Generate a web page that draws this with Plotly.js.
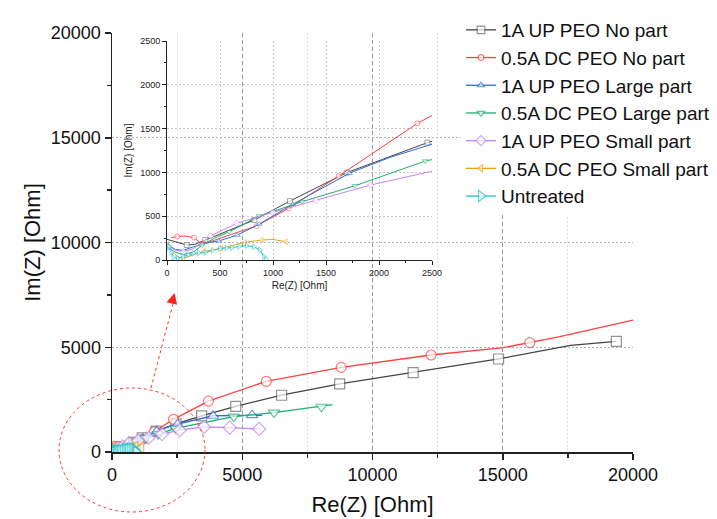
<!DOCTYPE html>
<html>
<head>
<meta charset="utf-8">
<script src="https://cdn.plot.ly/plotly-3.0.1.min.js"></script>
<style>html,body{margin:0;padding:0;background:#fff;}#chart{width:717px;height:519px;}</style>
</head>
<body>
<div id="chart"></div>
<script>
// ---- Data (Nyquist: Re(Z), Im(Z) in Ohm) ----
var seriesNames = ['1A UP PEO No part','0.5A DC PEO No part','1A UP PEO Large part','0.5A DC PEO Large part','1A UP PEO Small part','0.5A DC PEO Small part','Untreated'];

var blackX = [0, 75, 186, 264, 362, 824, 1160, 1695, 2456, 3440, 4750, 6510, 8740, 11560, 14840, 17600, 19360];
var blackY = [236, 209, 171, 179, 228, 457, 673, 997, 1339, 1720, 2180, 2710, 3250, 3790, 4440, 5090, 5280];
var blackM = [0, 0, 1, 0, 1, 1, 1, 1, 1, 1, 1, 1, 1, 1, 1, 0, 1];

var redX = [40, 97, 170, 255, 310, 400, 600, 846, 1148, 1620, 2362, 3700, 5920, 8800, 12250, 15020, 16040, 17150, 20000];
var redY = [255, 268, 275, 255, 200, 205, 290, 388, 590, 959, 1560, 2430, 3370, 4040, 4630, 4980, 5220, 5500, 6300];
var redM = [0, 1, 0, 1, 0, 0, 0, 1, 1, 1, 1, 1, 1, 1, 1, 0, 1, 0, 0];

var blueX = [10, 80, 150, 250, 400, 488, 663, 871, 1186, 1720, 2100, 2520, 3880, 5380, 5760];
var blueY = [170, 120, 110, 150, 200, 217, 285, 411, 636, 990, 1170, 1330, 1730, 1760, 1750];
var blueM = [1, 0, 0, 0, 0, 1, 1, 1, 1, 1, 0, 1, 1, 1, 0];

var greenX = [10, 60, 150, 250, 330, 450, 588, 868, 1276, 1774, 2437, 4670, 6220, 8040, 8460];
var greenY = [150, 100, 60, 90, 168, 250, 323, 502, 666, 848, 1130, 1690, 1880, 2160, 2260];
var greenM = [1, 0, 0, 0, 1, 0, 1, 1, 1, 1, 1, 1, 1, 1, 0];

var purpleX = [0, 60, 154, 250, 412, 657, 997, 1406, 1921, 2600, 3530, 4520, 5650];
var purpleY = [185, 120, 95, 130, 274, 419, 544, 681, 856, 1040, 1200, 1160, 1100];
var purpleM = [0, 0, 1, 0, 1, 1, 1, 1, 1, 1, 1, 1, 1];

var orangeX = [0, 40, 100, 154, 250, 350, 512, 736, 893, 1000, 1120];
var orangeY = [170, 100, 40, 19, 60, 100, 133, 202, 228, 235, 209];
var orangeM = [1, 0, 0, 1, 0, 1, 1, 1, 1, 0, 1];

var cyanX = [0, 20, 40, 60, 100, 150, 200, 248, 300, 362, 430, 500, 560, 613, 680, 752, 820, 877, 915, 934];
var cyanY = [130, 152, 90, 30, 20, 40, 60, 76, 80, 84, 110, 130, 138, 141, 155, 165, 150, 114, 40, 8];
var cyanM = [1, 1, 1, 1, 1, 1, 1, 1, 1, 1, 1, 1, 1, 1, 1, 1, 1, 1, 1, 1];

var mainTicks = [0, 5000, 10000, 15000, 20000];
var mainTickText = ['0', '5000', '10000', '15000', '20000'];
var insetTicks = [0, 500, 1000, 1500, 2000, 2500];
var insetTickText = ['0', '500', '1000', '1500', '2000', '2500'];

// ---- Styles ----
var series = [
  {x: blackX,  y: blackY,  m: blackM,  color: '#444444', mcolor: '#666666', symbol: 'square'},
  {x: redX,    y: redY,    m: redM,    color: '#ff4040', mcolor: '#ff4040', symbol: 'circle'},
  {x: blueX,   y: blueY,   m: blueM,   color: '#2a6fd8', mcolor: '#2a6fd8', symbol: 'triangle-up'},
  {x: greenX,  y: greenY,  m: greenM,  color: '#1fae6a', mcolor: '#1fae6a', symbol: 'triangle-down'},
  {x: purpleX, y: purpleY, m: purpleM, color: '#c184ee', mcolor: '#c184ee', symbol: 'diamond'},
  {x: orangeX, y: orangeY, m: orangeM, color: '#eea21c', mcolor: '#eea21c', symbol: 'triangle-left'},
  {x: cyanX,   y: cyanY,   m: cyanM,   color: '#22c3c8', mcolor: '#22c3c8', symbol: 'triangle-right'}
];

var FONT = 'Liberation Sans, Arial, Helvetica, sans-serif';
var traces = [];
series.forEach(function (s, i) {
  traces.push({
    type: 'scatter', mode: 'lines+markers', name: seriesNames[i],
    x: s.x, y: s.y, xaxis: 'x', yaxis: 'y',
    line: {color: s.color, width: 1.3},
    marker: {symbol: s.symbol, color: 'white', size: s.m.map(function (v) { return v ? 10 : 0; }),
             line: {color: s.mcolor, width: 1.2}},
    hoverinfo: 'skip'
  });
});
series.forEach(function (s, i) {
  traces.push({
    type: 'scatter', mode: 'lines+markers', name: seriesNames[i], showlegend: false,
    x: s.x, y: s.y, xaxis: 'x2', yaxis: 'y2',
    line: {color: s.color, width: 1},
    marker: {symbol: s.symbol, color: 'white', size: s.m.map(function (v) { return v ? 5 : 0; }),
             line: {color: s.mcolor, width: 0.8}},
    hoverinfo: 'skip'
  });
});

var W = 717, H = 519, L = 112, R = 84, T = 33, B = 67;
var pw = W - L - R, ph = H - T - B;
function px(x) { return (x - L) / pw; }
function py(y) { return (H - B - y) / ph; }

var layout = {
  width: W, height: H,
  margin: {l: L, r: R, t: T, b: B, pad: 0, autoexpand: false},
  paper_bgcolor: 'white', plot_bgcolor: 'rgba(0,0,0,0)',
  font: {family: FONT, color: '#111'},
  showlegend: true,
  legend: {x: px(461), y: py(11), xanchor: 'left', yanchor: 'top', bgcolor: 'white',
           borderwidth: 0, font: {family: FONT, size: 19, color: '#111'}, tracegroupgap: 0},
  xaxis: {
    domain: [0, 1], anchor: 'y', range: [0, 20000], tickvals: mainTicks, ticktext: mainTickText,
    showline: true, linecolor: '#222', linewidth: 1.5,
    ticks: 'outside', ticklen: 6, tickwidth: 1.5, tickcolor: '#222',
    showgrid: true, gridcolor: '#9a9a9a', griddash: '4px,3px', gridwidth: 1,
    zeroline: false,
    minor: {dtick: 2500, tick0: 0, ticks: 'outside', ticklen: 4, tickwidth: 1.5, tickcolor: '#222',
            showgrid: true, gridcolor: '#e0e0e0', griddash: '2px,2px', gridwidth: 1},
    tickfont: {family: FONT, size: 18, color: '#111'},
    title: {text: 'Re(Z) [Ohm]', font: {family: FONT, size: 22, color: '#111'}, standoff: 12},
    automargin: false
  },
  yaxis: {
    domain: [0, 1], anchor: 'x', range: [0, 20000], tickvals: mainTicks, ticktext: mainTickText,
    showline: true, linecolor: '#222', linewidth: 1.5,
    ticks: 'outside', ticklen: 6, tickwidth: 1.5, tickcolor: '#222',
    showgrid: true, gridcolor: '#b4b4b4', griddash: '2px,2px', gridwidth: 1,
    zeroline: false,
    minor: {dtick: 2500, tick0: 0, ticks: 'outside', ticklen: 4, tickwidth: 1.5, tickcolor: '#222', showgrid: false},
    tickfont: {family: FONT, size: 18, color: '#111'},
    title: {text: 'Im(Z) [Ohm]', font: {family: FONT, size: 22, color: '#111'}, standoff: 4},
    automargin: false
  },
  xaxis2: {
    domain: [px(167), px(432)], anchor: 'y2', range: [0, 2500], tickvals: insetTicks, ticktext: insetTickText,
    showline: true, linecolor: '#222', linewidth: 1,
    ticks: 'outside', ticklen: 4, tickwidth: 1, tickcolor: '#222',
    showgrid: true, gridcolor: '#c8c8c8', griddash: '2px,2px', gridwidth: 1, zeroline: false,
    minor: {dtick: 250, tick0: 0, ticks: 'outside', ticklen: 2, tickwidth: 1, tickcolor: '#222', showgrid: false},
    tickfont: {family: FONT, size: 9, color: '#222'},
    title: {text: 'Re(Z) [Ohm]', font: {family: FONT, size: 10, color: '#222'}, standoff: 5},
    automargin: false
  },
  yaxis2: {
    domain: [py(260), py(41)], anchor: 'x2', range: [0, 2500], tickvals: insetTicks, ticktext: insetTickText,
    showline: true, linecolor: '#222', linewidth: 1,
    ticks: 'outside', ticklen: 4, tickwidth: 1, tickcolor: '#222',
    showgrid: true, gridcolor: '#c8c8c8', griddash: '2px,2px', gridwidth: 1, zeroline: false,
    minor: {dtick: 250, tick0: 0, ticks: 'outside', ticklen: 2, tickwidth: 1, tickcolor: '#222', showgrid: false},
    tickfont: {family: FONT, size: 9, color: '#222'},
    title: {text: 'Im(Z) [Ohm]', font: {family: FONT, size: 10, color: '#222'}, standoff: 5},
    automargin: false
  },
  shapes: [
    {type: 'circle', xref: 'paper', yref: 'paper', layer: 'above',
     x0: px(59), x1: px(205), y0: py(512), y1: py(388),
     line: {color: '#ff3030', width: 1, dash: 'dot'}},
    {type: 'line', xref: 'paper', yref: 'paper', layer: 'above',
     x0: px(151), y0: py(388), x1: px(174), y1: py(300),
     line: {color: '#ff3030', width: 1, dash: 'dot'}}
  ],
  annotations: [
    {xref: 'paper', yref: 'paper', x: px(174.5), y: py(293), text: '', showarrow: true,
     ax: -2.5, ay: 10, arrowhead: 2, arrowsize: 1.8, arrowwidth: 1.2, arrowcolor: '#ff2020', standoff: 0}
  ]
};

Plotly.newPlot('chart', traces, layout, {displayModeBar: false, staticPlot: true});
</script>
</body>
</html>
